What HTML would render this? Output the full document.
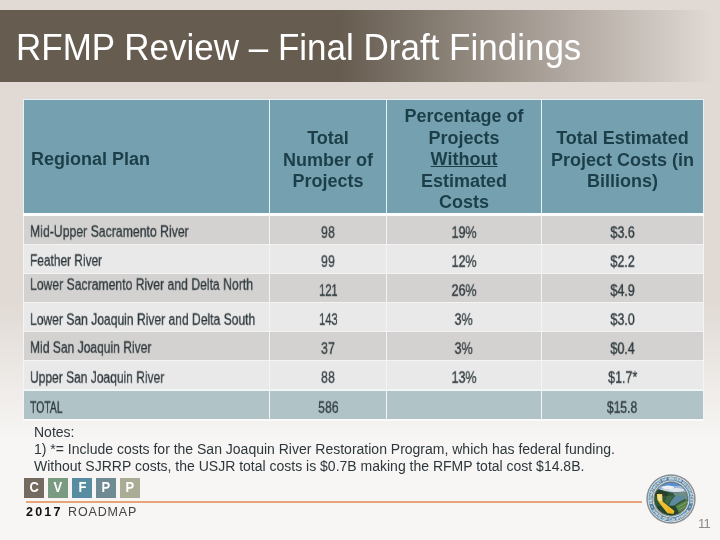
<!DOCTYPE html>
<html><head><meta charset="utf-8">
<style>
html,body{margin:0;padding:0;}
body{width:720px;height:540px;overflow:hidden;position:relative;font-family:"Liberation Sans",sans-serif;
 background:linear-gradient(to bottom,#e0d9d4 0px,#e0d9d4 298px,#f7f6f4 440px,#f7f6f4 540px);}
#bar{position:absolute;left:0;top:10px;width:720px;height:72px;
 background:linear-gradient(to right,#665c50 0px,#665c50 340px,rgba(102,92,80,0) 712px);}
#title{will-change:transform;transform:scaleY(1.045);transform-origin:0 32.5px;position:absolute;left:16.3px;top:27.5px;font-size:35px;line-height:40px;color:#fff;white-space:nowrap;}
table{position:absolute;left:23px;top:99px;border-collapse:collapse;table-layout:fixed;width:680px;}
th{background:#74a0af;color:#1c3e49;font-weight:bold;font-size:18px;line-height:21.5px;text-align:center;padding:5px 0 0 0;height:108px;border:1px solid #e6f2f5;border-bottom:3px solid #fff;vertical-align:middle;}
th.l{text-align:left;padding-left:6.5px;}
th>div{position:relative;top:1px;will-change:transform;}
td{height:28px;line-height:18px;padding:0;border:1px solid #f4f4f4;text-align:center;font-size:16px;color:#2d373c;}
td.l{text-align:left;padding-left:5.5px;}
tr.a td{background:#d3d2d0;}
tr.b td{background:#e9e9e9;}
tr.t td{background:#b0c4c8;border-top:2px solid #f1f5f5;border-bottom:2px solid #fafafa;height:27.5px;}
.c{will-change:transform;-webkit-text-stroke:0.3px #2d373c;display:inline-block;position:relative;top:3px;transform:scale(var(--s,0.78),0.95);transform-origin:center center;white-space:nowrap;}
td.l .c{transform-origin:left center;}
#notes{will-change:transform;position:absolute;left:33.6px;top:424px;font-size:14px;line-height:17px;color:#2d373c;white-space:nowrap;}

.bx{will-change:transform;position:absolute;top:477.8px;width:20.4px;height:20px;color:#fff;font-weight:bold;font-size:14.4px;line-height:18.8px;text-align:center;}
.bx span{display:inline-block;transform:scaleX(0.9);}
#oline{position:absolute;left:26.3px;top:501.1px;width:615.3px;height:1.8px;background:#e6a67a;}
#y17{will-change:transform;position:absolute;left:26.2px;top:502px;font-size:12.5px;line-height:20px;font-weight:bold;color:#111;letter-spacing:2.2px;white-space:nowrap;}
#rdm{will-change:transform;position:absolute;left:67.7px;top:502px;font-size:12.5px;line-height:20px;color:#444;letter-spacing:0.85px;white-space:nowrap;}
#pn{will-change:transform;position:absolute;left:698px;top:514px;font-size:13px;line-height:20px;color:#8c8c8c;letter-spacing:-0.8px;white-space:nowrap;}
#seal{position:absolute;left:646.3px;top:474px;width:50px;height:50px;}
</style></head><body>
<div id="bar"></div>
<div id="title">RFMP Review – Final Draft Findings</div>
<table>
<colgroup><col style="width:246px"><col style="width:117px"><col style="width:155px"><col style="width:162px"></colgroup>
<tr><th class="l"><div>Regional Plan</div></th><th><div>Total<br>Number of<br>Projects</div></th><th><div>Percentage of<br>Projects<br><u>Without</u><br>Estimated<br>Costs</div></th><th><div>Total Estimated<br>Project Costs (in<br>Billions)</div></th></tr>
<tr class="a"><td class="l"><span class="c" style="--s:0.766;top:2px">Mid-Upper Sacramento River</span></td><td><span class="c">98</span></td><td><span class="c">19%</span></td><td><span class="c">$3.6</span></td></tr>
<tr class="b"><td class="l"><span class="c" style="--s:0.744;top:2px">Feather River</span></td><td><span class="c">99</span></td><td><span class="c">12%</span></td><td><span class="c">$2.2</span></td></tr>
<tr class="a"><td class="l"><span class="c" style="--s:0.762;top:-3px">Lower Sacramento River and Delta North</span></td><td><span class="c" style="--s:0.699">121</span></td><td><span class="c">26%</span></td><td><span class="c">$4.9</span></td></tr>
<tr class="b"><td class="l"><span class="c" style="--s:0.756;top:3px">Lower San Joaquin River and Delta South</span></td><td><span class="c" style="--s:0.699">143</span></td><td><span class="c">3%</span></td><td><span class="c">$3.0</span></td></tr>
<tr class="a"><td class="l"><span class="c" style="--s:0.754;top:2px">Mid San Joaquin River</span></td><td><span class="c">37</span></td><td><span class="c">3%</span></td><td><span class="c">$0.4</span></td></tr>
<tr class="b"><td class="l"><span class="c" style="--s:0.751;top:3px">Upper San Joaquin River</span></td><td><span class="c">88</span></td><td><span class="c">13%</span></td><td><span class="c">$1.7*</span></td></tr>
<tr class="t"><td class="l"><span class="c" style="--s:0.650;top:3px">TOTAL</span></td><td><span class="c" style="--s:0.773;top:3px">586</span></td><td></td><td><span class="c" style="--s:0.756;top:3px">$15.8</span></td></tr>
</table>
<div id="notes">Notes:<br>1) *= Include costs for the San Joaquin River Restoration Program, which has federal funding.<br>Without SJRRP costs, the USJR total costs is $0.7B making the RFMP total cost $14.8B.</div>

<div class="bx" style="left:24px;background:#756a5f"><span>C</span></div>
<div class="bx" style="left:48px;background:#7a9b82"><span>V</span></div>
<div class="bx" style="left:72px;background:#588ca0"><span>F</span></div>
<div class="bx" style="left:95.8px;background:#708a94"><span>P</span></div>
<div class="bx" style="left:119.6px;background:#aaac96"><span>P</span></div>
<div id="oline"></div>
<div id="y17">2017</div><div id="rdm">ROADMAP</div>
<div id="pn">11</div>
<svg id="seal" viewBox="0 0 50 50">
<defs>
<clipPath id="ic"><circle cx="25" cy="25" r="16.4"/></clipPath>
<path id="tp" d="M 6.32 29.66 A 19.25 19.25 0 1 1 43.68 29.66"/>
<path id="bp" d="M 6.23 36.28 A 21.9 21.9 0 0 0 43.77 36.28"/>
</defs>
<circle cx="25" cy="25" r="24.7" fill="#868d93"/>
<circle cx="25" cy="25" r="23.2" fill="#eef1f3"/>
<circle cx="25" cy="25" r="22.5" fill="#55819f"/>
<circle cx="25" cy="25" r="18.4" fill="#eef1f2"/>
<circle cx="25" cy="25" r="17.7" fill="#858d8c"/>
<g clip-path="url(#ic)">
<rect x="8" y="8" width="34" height="34" fill="#23452f"/>
<rect x="8" y="8" width="34" height="10" fill="#5b8ed0"/>
<rect x="8" y="12" width="34" height="7" fill="#9db9d6"/>
<ellipse cx="22" cy="13.4" rx="6" ry="1.8" fill="#eef1f4"/>
<ellipse cx="30" cy="16" rx="8" ry="1.9" fill="#dfe5ea"/>
<ellipse cx="18" cy="16.4" rx="5" ry="1.3" fill="#c9d3da"/>
<path d="M8 18 L13 15.5 L19 17 L26 18.5 L42 18 L42 32 L8 32 Z" fill="#31553a"/>
<path d="M8 17.5 L13 15.3 L18 17 L22 18.5 L22 22 L8 22 Z" fill="#26412e"/>
<path d="M27 18.6 L42 17.6 L42 26 L34 24 L28 21 Z" fill="#6f8f86"/>
<path d="M29.5 21.5 L38 21.5 L40.5 24 L34 27.5 L28 31.5 L23 31.5 L25 27 Z" fill="#5d8a9f"/>
<path d="M21 22 L28 21.5 L25 26 L22 30 L19 28 Z" fill="#3e6a4a"/>
<path d="M29.5 32 L42 25 L42 34 L33 39 Z" fill="#557f49"/>
<path d="M31.5 33.5 L42 27.5 M33 36 L42 30.5" stroke="#86ad6a" stroke-width="0.8" fill="none"/>
<path d="M10.8 20 L16.2 20 L16.6 27.5 L28.4 37 L27.6 39.8 L21.6 39.2 L14.8 31 L11.4 26 Z" fill="#f0c02c"/>
<path d="M11.4 20.6 L15.6 20.6 L15.9 27 L13.6 27.4 L11.8 25 Z" fill="#f3de8a"/>
<path d="M20 33 L27 38 L27 39.4 L22 38.8 Z" fill="#f5b01e"/>
</g>
<text font-family="Liberation Sans, sans-serif" font-weight="bold" font-size="3.7" fill="#fff" textLength="68.9" lengthAdjust="spacingAndGlyphs"><textPath href="#tp" textLength="68.9" lengthAdjust="spacingAndGlyphs">DEPARTMENT OF WATER RESOURCES</textPath></text>
<text font-family="Liberation Sans, sans-serif" font-weight="bold" font-size="3.7" fill="#fff" textLength="44.1" lengthAdjust="spacingAndGlyphs"><textPath href="#bp" textLength="44.1" lengthAdjust="spacingAndGlyphs">STATE OF CALIFORNIA</textPath></text>
<circle cx="6.06" cy="32.85" r="0.7" fill="#fff"/><circle cx="43.94" cy="32.85" r="0.7" fill="#fff"/>
</svg>
</body></html>
